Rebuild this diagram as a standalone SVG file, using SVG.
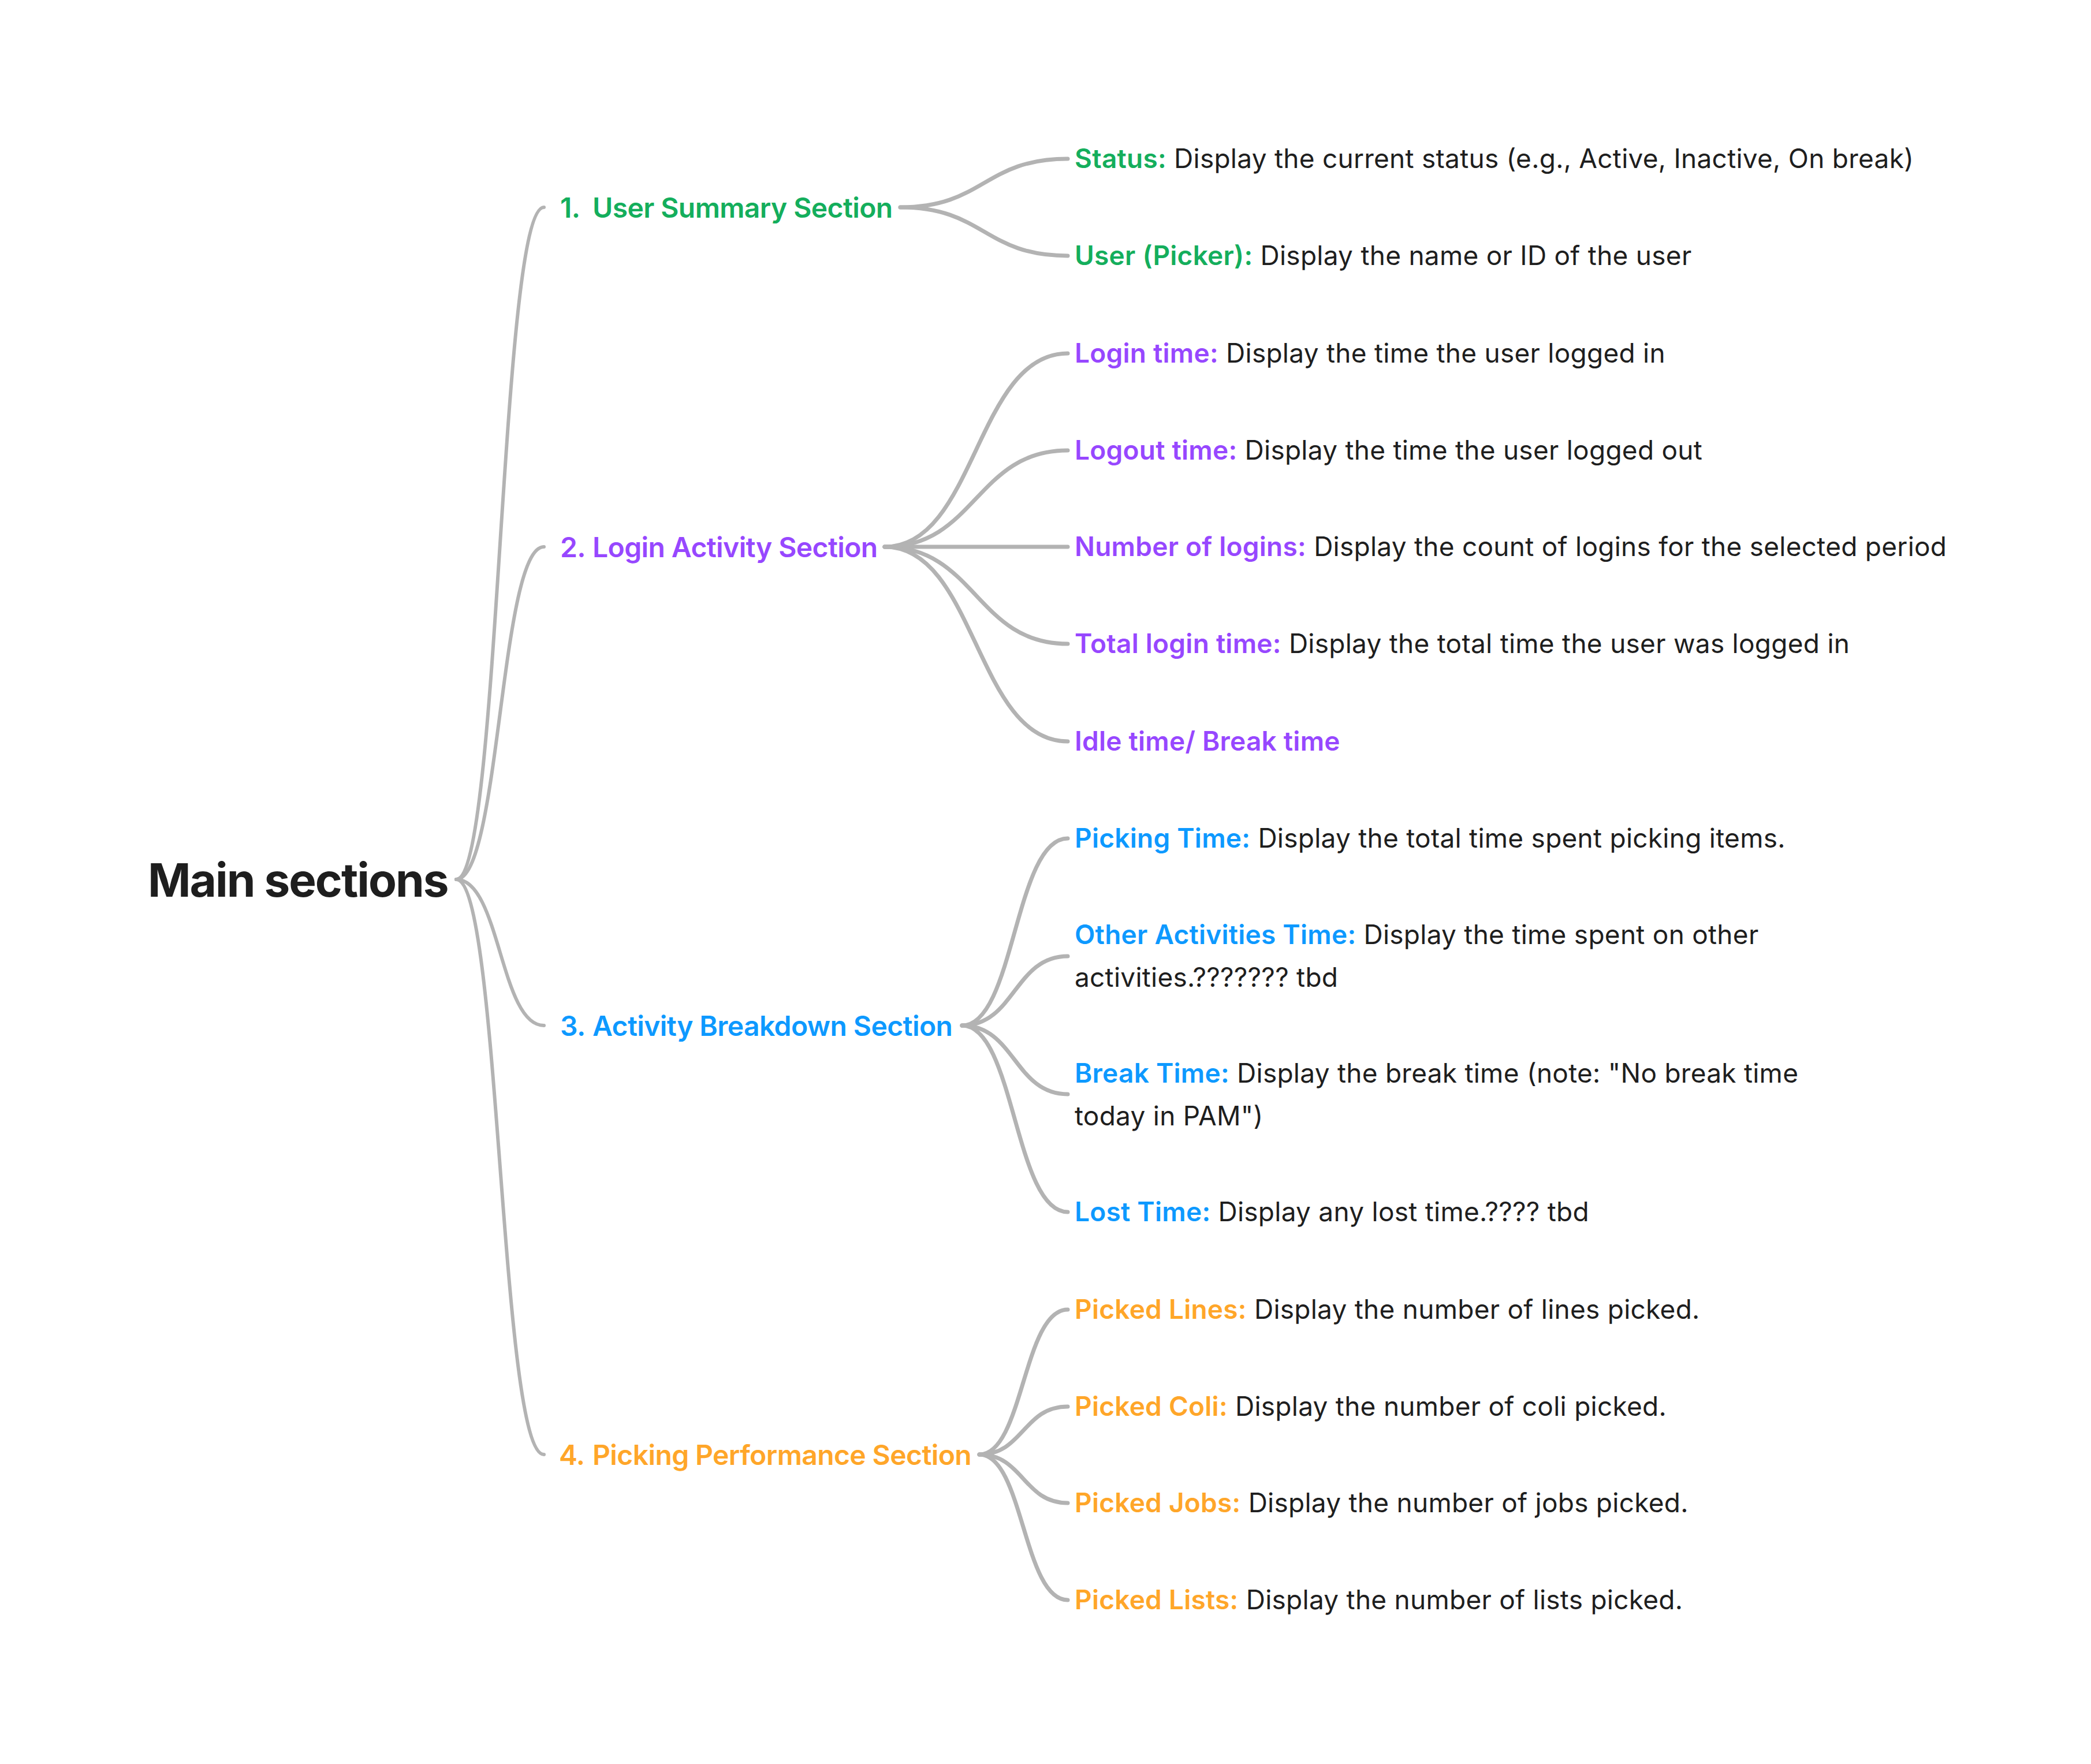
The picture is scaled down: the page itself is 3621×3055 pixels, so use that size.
<svg xmlns="http://www.w3.org/2000/svg" width="3621" height="3055" viewBox="0 0 3621 3055">
<style>
text{font-family:Inter,"Noto Sans","Liberation Sans",sans-serif;fill:#1E1E1E}
.root{font-size:80px;font-weight:700;letter-spacing:-2px}
.sec{font-size:48px;font-weight:600;letter-spacing:-0.6px}
.leaf{font-size:46px;font-weight:400;letter-spacing:0.25px}
.lb{font-weight:600}
.g{fill:#14AE5C}.p{fill:#9747FF}.b{fill:#0D99FF}.o{fill:#FFA629}
.c{fill:none;stroke:#B3B3B3;stroke-linecap:round}
.c1{stroke-width:6}.c2{stroke-width:7}
</style>
<rect width="3621" height="3055" fill="#FFFFFF"/>
<g id="connectors">
<path class="c c1" d="M790 1523 C866 1523 866 359 942 359"/>
<path class="c c1" d="M790 1523 C866 1523 866 947 942 947"/>
<path class="c c1" d="M790 1523 C866 1523 866 1776 942 1776"/>
<path class="c c1" d="M790 1523 C866 1523 866 2519 942 2519"/>
<path class="c c2" d="M1559 359 C1704 359 1704 275 1849 275"/>
<path class="c c2" d="M1559 359 C1704 359 1704 443 1849 443"/>
<path class="c c2" d="M1532 947 C1690 947 1690 612 1849 612"/>
<path class="c c2" d="M1532 947 C1690 947 1690 780 1849 780"/>
<path class="c c2" d="M1532 947 L1849 947"/>
<path class="c c2" d="M1532 947 C1690 947 1690 1115 1849 1115"/>
<path class="c c2" d="M1532 947 C1690 947 1690 1284 1849 1284"/>
<path class="c c2" d="M1666 1776 C1757 1776 1757 1452 1849 1452"/>
<path class="c c2" d="M1666 1776 C1757 1776 1757 1656 1849 1656"/>
<path class="c c2" d="M1666 1776 C1757 1776 1757 1895 1849 1895"/>
<path class="c c2" d="M1666 1776 C1757 1776 1757 2099 1849 2099"/>
<path class="c c2" d="M1696 2519 C1772 2519 1772 2268 1849 2268"/>
<path class="c c2" d="M1696 2519 C1772 2519 1772 2436 1849 2436"/>
<path class="c c2" d="M1696 2519 C1772 2519 1772 2603 1849 2603"/>
<path class="c c2" d="M1696 2519 C1772 2519 1772 2771 1849 2771"/>
</g>
<g id="root"><text class="root" x="256" y="1553">Main sections</text></g>
<g id="sec1"><text class="sec g" y="377"><tspan x="970">1.</tspan><tspan x="1026">User Summary Section</tspan></text></g>
<g id="sec2"><text class="sec p" y="965"><tspan x="970">2.</tspan><tspan x="1026">Login Activity Section</tspan></text></g>
<g id="sec3"><text class="sec b" y="1794"><tspan x="970">3.</tspan><tspan x="1026">Activity Breakdown Section</tspan></text></g>
<g id="sec4"><text class="sec o" y="2537"><tspan x="968">4.</tspan><tspan x="1026">Picking Performance Section</tspan></text></g>
<g id="leaf-status"><text class="leaf" x="1861" y="291"><tspan class="lb g">Status:</tspan> Display the current status (e.g., Active, Inactive, On break)</text></g>
<g id="leaf-user"><text class="leaf" x="1861" y="459"><tspan class="lb g">User (Picker):</tspan> Display the name or ID of the user</text></g>
<g id="leaf-login"><text class="leaf" x="1861" y="628"><tspan class="lb p">Login time:</tspan> Display the time the user logged in</text></g>
<g id="leaf-logout"><text class="leaf" x="1861" y="796"><tspan class="lb p">Logout time:</tspan> Display the time the user logged out</text></g>
<g id="leaf-number"><text class="leaf" x="1861" y="963"><tspan class="lb p">Number of logins:</tspan> Display the count of logins for the selected period</text></g>
<g id="leaf-total"><text class="leaf" x="1861" y="1131"><tspan class="lb p">Total login time:</tspan> Display the total time the user was logged in</text></g>
<g id="leaf-idle"><text class="leaf" x="1861" y="1300"><tspan class="lb p">Idle time/ Break time</tspan></text></g>
<g id="leaf-picking"><text class="leaf" x="1861" y="1468"><tspan class="lb b">Picking Time:</tspan> Display the total time spent picking items.</text></g>
<g id="leaf-other"><text class="leaf" x="1861" y="1635"><tspan class="lb b">Other Activities Time:</tspan> Display the time spent on other</text><text class="leaf" x="1861" y="1709">activities.??????? tbd</text></g>
<g id="leaf-break"><text class="leaf" x="1861" y="1875"><tspan class="lb b">Break Time:</tspan> Display the break time (note: "No break time</text><text class="leaf" x="1861" y="1949">today in PAM")</text></g>
<g id="leaf-lost"><text class="leaf" x="1861" y="2115"><tspan class="lb b">Lost Time:</tspan> Display any lost time.???? tbd</text></g>
<g id="leaf-lines"><text class="leaf" x="1861" y="2284"><tspan class="lb o">Picked Lines:</tspan> Display the number of lines picked.</text></g>
<g id="leaf-coli"><text class="leaf" x="1861" y="2452"><tspan class="lb o">Picked Coli:</tspan> Display the number of coli picked.</text></g>
<g id="leaf-jobs"><text class="leaf" x="1861" y="2619"><tspan class="lb o">Picked Jobs:</tspan> Display the number of jobs picked.</text></g>
<g id="leaf-lists"><text class="leaf" x="1861" y="2787"><tspan class="lb o">Picked Lists:</tspan> Display the number of lists picked.</text></g>
</svg>
